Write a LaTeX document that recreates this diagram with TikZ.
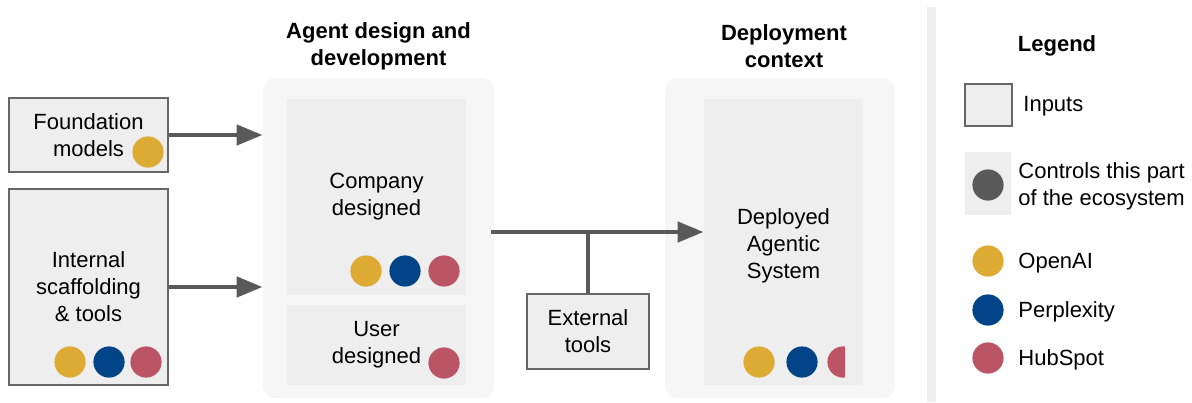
\documentclass[tikz,border=0pt]{standalone}
\usepackage{fontspec}
\setmainfont{Liberation Sans}
\usetikzlibrary{arrows.meta,positioning,calc}
\definecolor{oa}{HTML}{DDAA33}
\definecolor{px}{HTML}{004488}
\definecolor{hs}{HTML}{BB5566}
\definecolor{boxfill}{HTML}{EEEEEE}
\definecolor{panel}{HTML}{F6F6F6}
\definecolor{edge}{HTML}{666666}
\definecolor{flow}{HTML}{595959}
\begin{document}
\begin{tikzpicture}[x=0.5pt, y=-0.5pt,
  font=\fontsize{11}{13.5}\selectfont,
  input/.style={draw=edge, line width=1pt, fill=boxfill, align=center, inner sep=0pt},
  part/.style={fill=boxfill, align=center, inner sep=0pt},
  stage/.style={fill=panel, rounded corners=6pt, inner sep=0pt},
  dot/.style={circle, inner sep=0pt, minimum size=15.6pt},
  head/.style={font=\fontsize{11}{13.5}\selectfont\bfseries, align=center},
  flowline/.style={draw=flow, line width=2.3pt, -{Triangle[length=13pt,width=10pt]}},
  key/.style={anchor=west, align=left, inner sep=0pt}]
  \useasboundingbox (0,0) rectangle (1192,402);

  \node[input, minimum width=79.5pt, minimum height=37pt] (found) at (88.5,135) {Foundation\\models};
  \node[dot, fill=oa] (found1) at (148,152) {};
  \node[input, minimum width=79.5pt, minimum height=98pt] (scaf) at (88.5,287) {Internal\\scaffolding\\\& tools};
  \node[dot, fill=oa] (scaf1) at (70,362) {};
  \node[dot, fill=px] (scaf2) at (109,362) {};
  \node[dot, fill=hs] (scaf3) at (146,362) {};

  \node[head] (agenthead) at (378.5,46) {Agent design and\\development};
  \node[stage, minimum width=115.5pt, minimum height=160pt] (agent) at (378.5,238) {};
  \node[part, minimum width=89.5pt, minimum height=98pt] (company) at (376.5,197) {Company\\designed};
  \node[dot, fill=oa] (company1) at (366,271) {};
  \node[dot, fill=px] (company2) at (405,271) {};
  \node[dot, fill=hs] (company3) at (444,271) {};
  \node[part, minimum width=89.5pt, minimum height=40pt] (user) at (376.5,345) {User\\designed};
  \node[dot, fill=hs] (user1) at (444,363) {};

  \node[head] (deployhead) at (784,46) {Deployment\\context};
  \node[stage, minimum width=115pt, minimum height=160pt] (deploy) at (780,238) {};
  \node[part, minimum width=79.5pt, minimum height=143pt] (deployed) at (783.5,242) {};
  \node[align=center] (deployedtext) at (783.5,246) {Deployed\\Agentic\\System};
  \node[dot, fill=oa] (deployed1) at (759,362) {};
  \node[dot, fill=px] (deployed2) at (802,362) {};
  \begin{scope}
    \clip (820,340) rectangle (845,385);
    \node[dot, fill=hs] (deployed3) at (843,362) {};
  \end{scope}

  \node[input, minimum width=61pt, minimum height=37.5pt] (ext) at (588,331.5) {External\\tools};
  \coordinate (split) at (588,232);

  \draw[flowline] (found.east) -- (found.east -| agent.west);
  \draw[flowline] (scaf.east) -- (scaf.east -| agent.west);
  \draw[flowline] ($(agent.east |- split)+(-3,0)$) -- (deployed.west |- split);
  \draw[draw=flow, line width=2pt] (ext.north) -- (split);

  \fill[boxfill] (927,7) rectangle (936,402);
  \node[head] (legend) at (1057,46) {Legend};
  \node[input, minimum width=23.5pt, minimum height=21pt] (keyinput) at (988.5,105) {};
  \node[key] (keyinputtext) at (1023,106) {Inputs};
  \node[part, minimum width=23pt, minimum height=31.5pt] (keyctrl) at (988,183.5) {};
  \node[dot, fill=flow] (keyctrl1) at (988,185) {};
  \node[key] (keyctrltext) at (1018,186) {Controls this part\\of the ecosystem};
  \node[dot, fill=oa] (keyoa) at (988,261) {};
  \node[key] (keyoatext) at (1018,263) {OpenAI};
  \node[dot, fill=px] (keypx) at (988,310) {};
  \node[key] (keypxtext) at (1018,312) {Perplexity};
  \node[dot, fill=hs] (keyhs) at (988,358) {};
  \node[key] (keyhstext) at (1018,360) {HubSpot};
\end{tikzpicture}
\end{document}
